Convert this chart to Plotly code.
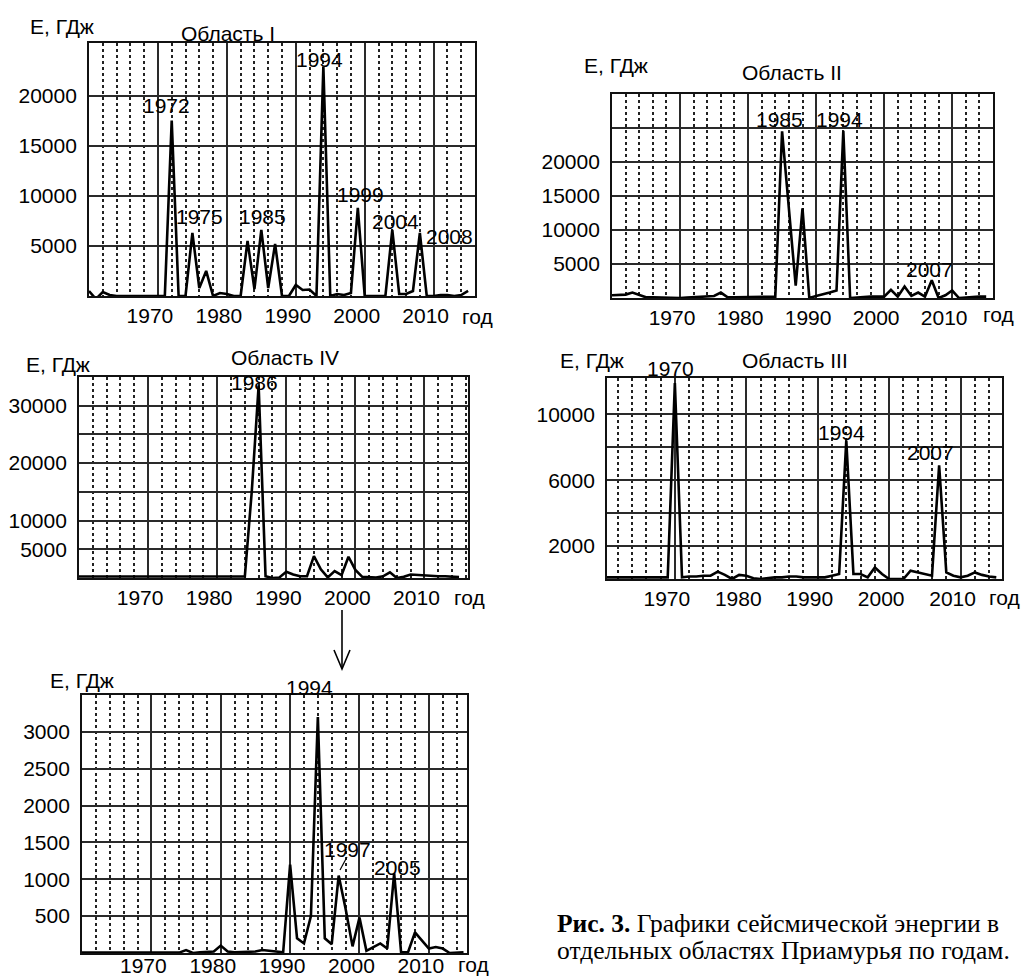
import plotly.graph_objects as go

W, H = 1023, 978
years = list(range(1960, 2016))

# ---- data (E, GJ per year) ----
e_region1 = [500, -300, 400, 100, 0, 0, 0, 0, 0, 0,
             0, 0, 17500, 0, 0, 6300, 800, 2500, 0, 300,
             200, 0, 0, 5500, 700, 6600, 800, 5200, 0, 0,
             1100, 600, 650, 0, 22900, 0, 200, 100, 300, 8800,
             0, 0, 0, 0, 6600, 200, 200, 500, 6300, 0,
             0, 100, 100, 0, 100, 500]
e_region2 = [400, 450, 500, 800, 500, 100, 100, 50, 50, 0,
             0, 50, 100, 100, 200, 300, 800, 100, 100, 100,
             100, 100, 100, 100, 200, 24500, 13000, 1800, 13200, 0,
             300, 500, 800, 1100, 24600, 0, 100, 100, 200, 200,
             200, 1200, 200, 1700, 300, 800, 200, 2600, 0, 400,
             1100, 0, 100, 100, 200, 200]
e_region4 = [250] * 25 + [15000, 33500, 300, 0, 100,
             1100, 600, 300, 300, 3800, 1500, 100, 1200, 500, 3700,
             1400, 200, 100, 100, 300, 1000, 0, 200, 600, 500,
             500, 400, 300, 300, 200, 150]
e_region3 = [100, 100, 100, 100, 100, 100, 100, 100, 100, 100,
             11900, 100, 150, 150, 200, 200, 450, 250, 0, 250,
             200, 50, 0, 50, 100, 100, 150, 150, 100, 100,
             100, 100, 200, 300, 8400, 300, 300, 100, 700, 300,
             0, 0, 0, 500, 400, 300, 200, 6900, 400, 200,
             100, 200, 400, 250, 150, 100]
e_region4_zoom = [5, 5, 5, 5, 5, 5, 5, 5, 5, 5,
                  5, 5, 5, 5, 5, 40, 0, 10, 10, 20,
                  100, 20, 10, 10, 10, 20, 40, 30, 10, 10,
                  1200, 200, 130, 500, 3200, 200, 120, 1050, 600, 90,
                  480, 30, 80, 130, 60, 1080, 10, 10, 280, 170,
                  60, 80, 60, 0, 0, 10]

x_ticks = [1970, 1980, 1990, 2000, 2010]
x_labels = ["1970", "1980", "1990", "2000", "2010"]

FONT = "Liberation Sans, Arial, sans-serif"
FS = 21

def px(x):
    return x / W

def py(y):
    return 1 - y / H

# panels: (key, data, pixel box (x0,y0,x1,y1), xrange, yrange, tickvals, ticktext, x-label standoff)
panels = [
    ("1", e_region1, (89, 43, 475, 296), [1960, 2016], [0, 25250],
     [5000, 10000, 15000, 20000], ["5000", "10000", "15000", "20000"], 0),
    ("2", e_region2, (612, 94, 993, 298), [1960, 2016], [0, 30000],
     [5000, 10000, 15000, 20000, 25000], ["5000", "10000", "15000", "20000", ""], 0),
    ("3", e_region4, (79, 377, 468, 578), [1960, 2016.3], [0, 35000],
     [5000, 10000, 15000, 20000, 25000, 30000], ["5000", "10000", "", "20000", "", "30000"], 0),
    ("4", e_region3, (607, 378, 1002, 579), [1960.5, 2015.8], [0, 12200],
     [2000, 4000, 6000, 8000, 10000], ["2000", "", "6000", "", "10000"], 0),
    ("5", e_region4_zoom, (82, 695, 467, 953), [1960, 2015.5], [0, 3500],
     [500, 1000, 1500, 2000, 2500, 3000], ["500", "1000", "1500", "2000", "2500", "3000"], -7),
]

fig = go.Figure()
layout = dict(
    width=W, height=H, margin=dict(l=0, r=0, t=0, b=0, autoexpand=False),
    paper_bgcolor="white", plot_bgcolor="white", showlegend=False,
    font=dict(family=FONT, size=FS, color="black"),
)

for key, data, box, xr, yr, tv, tt, xso in panels:
    x0, y0, x1, y1 = box
    xa = "x" if key == "1" else "x" + key
    ya = "y" if key == "1" else "y" + key
    fig.add_trace(go.Scatter(x=years, y=data, mode="lines", xaxis=xa, yaxis=ya,
                             line=dict(color="black", width=2.6), hoverinfo="skip"))
    layout["xaxis" + ("" if key == "1" else key)] = dict(
        domain=[px(x0), px(x1)], anchor=ya, range=xr, automargin=False,
        tickmode="array", tickvals=x_ticks, ticktext=x_labels,
        showgrid=True, gridcolor="#2a2a2a", gridwidth=1.6,
        minor=dict(tickmode="linear", tick0=1960, dtick=2, showgrid=True,
                   griddash="dot", gridcolor="#222", gridwidth=2, ticks=""),
        showline=True, mirror=True, linecolor="#111", linewidth=1.8,
        zeroline=False, ticks="", tickfont=dict(size=FS, family=FONT),
        ticklabelshift=-8, ticklabelstandoff=xso,
    )
    layout["yaxis" + ("" if key == "1" else key)] = dict(
        domain=[py(y1), py(y0)], anchor=xa, range=yr, automargin=False,
        tickmode="array", tickvals=tv, ticktext=tt,
        showgrid=True, gridcolor="#2a2a2a", gridwidth=1.6,
        showline=True, mirror=True, linecolor="#111", linewidth=1.8,
        zeroline=False, ticks="", tickfont=dict(size=FS, family=FONT),
        ticklabelstandoff=6,
    )

fig.update_layout(**layout)

# ---- text labels (pixel centres in the window) ----
texts = [
    # panel I
    ("Е, ГДж", 62, 27), ("Область I", 228, 33), ("1994", 319, 60), ("1972", 166, 106),
    ("1975", 199, 217), ("1985", 262, 217), ("1999", 360, 195), ("2004", 395, 221),
    ("2008", 449, 236), ("год", 477, 316),
    # panel II
    ("Е, ГДж", 616, 65), ("Область II", 792, 72), ("1985", 779, 120), ("1994", 839, 120),
    ("2007", 929, 270), ("год", 998, 315),
    # panel IV
    ("Е, ГДж", 58, 365), ("Область IV", 285, 357), ("1986", 254, 382), ("год", 469, 597),
    # panel III
    ("Е, ГДж", 592, 360), ("1970", 670, 368), ("Область III", 795, 360), ("1994", 841, 432),
    ("2007", 930, 452), ("год", 1004, 597),
    # panel IV (detail)
    ("Е, ГДж", 82, 680), ("1994", 309, 687), ("1997", 347, 849), ("2005", 397, 867),
    ("год", 473, 964),
]
for t, x, y in texts:
    fig.add_annotation(text=t, x=px(x), y=py(y), xref="paper", yref="paper",
                       xanchor="center", yanchor="middle", showarrow=False,
                       font=dict(family=FONT, size=FS, color="black"))

# caption
CAP_FONT = "Liberation Serif, Times New Roman, serif"
fig.add_annotation(text="<b>Рис. 3.</b> Графики сейсмической энергии в",
                   x=px(555), y=py(923), xref="paper", yref="paper",
                   xanchor="left", yanchor="middle", showarrow=False,
                   font=dict(family=CAP_FONT, size=25.5, color="black"))
fig.add_annotation(text="отдельных областях Приамурья по годам.",
                   x=px(555), y=py(950), xref="paper", yref="paper",
                   xanchor="left", yanchor="middle", showarrow=False,
                   font=dict(family=CAP_FONT, size=25.5, color="black"))

# arrow from region IV to its detail
fig.add_shape(type="line", xref="paper", yref="paper",
              x0=px(342), y0=py(610), x1=px(342), y1=py(668),
              line=dict(color="black", width=1.6))
fig.add_shape(type="path", xref="paper", yref="paper",
              path=f"M {px(334)} {py(650)} L {px(342)} {py(669)} L {px(350)} {py(650)}",
              line=dict(color="black", width=1.6))
# small leader line for 1997 label
fig.add_shape(type="line", xref="paper", yref="paper",
              x0=px(347), y0=py(857), x1=px(340), y1=py(870),
              line=dict(color="black", width=1.2))

# remove the default page margin so the figure fills the 1023x978 window exactly
fig.write_html("out.html", config={"displayModeBar": False},
               post_script="document.body.style.margin='0';document.body.style.overflow='hidden';")
